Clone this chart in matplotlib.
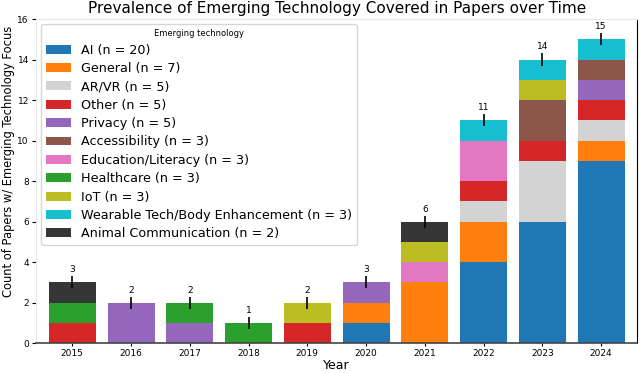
import numpy as np
import matplotlib.pyplot as plt

years = ['2015', '2016', '2017', '2018', '2019', '2020', '2021', '2022', '2023', '2024']

# counts per year, stacked bottom to top in this order
categories = ['AI', 'General', 'AR/VR', 'Other', 'Privacy', 'Accessibility',
              'Education/Literacy', 'Healthcare', 'IoT',
              'Wearable Tech/Body Enhancement', 'Animal Communication']
ai            = [0, 0, 0, 0, 0, 1, 0, 4, 6, 9]
general       = [0, 0, 0, 0, 0, 1, 3, 2, 0, 1]
ar_vr         = [0, 0, 0, 0, 0, 0, 0, 1, 3, 1]
other         = [1, 0, 0, 0, 1, 0, 0, 1, 1, 1]
privacy       = [0, 2, 1, 0, 0, 1, 0, 0, 0, 1]
accessibility = [0, 0, 0, 0, 0, 0, 0, 0, 2, 1]
education     = [0, 0, 0, 0, 0, 0, 1, 2, 0, 0]
healthcare    = [1, 0, 1, 1, 0, 0, 0, 0, 0, 0]
iot           = [0, 0, 0, 0, 1, 0, 1, 0, 1, 0]
wearable      = [0, 0, 0, 0, 0, 0, 0, 1, 1, 1]
animal        = [1, 0, 0, 0, 0, 0, 1, 0, 0, 0]

series = [ai, general, ar_vr, other, privacy, accessibility,
          education, healthcare, iot, wearable, animal]
colors = ['tab:blue', 'tab:orange', 'lightgray', 'tab:red', 'tab:purple',
          'tab:brown', 'tab:pink', 'tab:green', 'tab:olive', 'tab:cyan', '#363636']

fig = plt.figure(figsize=(6.4, 3.73), dpi=100)
ax = fig.add_axes([0.056, 0.08, 0.94, 0.869])

x = np.arange(len(years))
bottom = np.zeros(len(years))
for name, vals, c in zip(categories, series, colors):
    vals = np.array(vals)
    ax.bar(x, vals, 0.8, bottom=bottom, color=c,
           label='{} (n = {})'.format(name, vals.sum()))
    bottom += vals

totals = bottom
ax.errorbar(x, totals, yerr=0.3, fmt='none', ecolor='black', elinewidth=1.2)
for xi, t in zip(x, totals):
    ax.text(xi, t + 0.4, str(int(t)), ha='center', va='bottom', fontsize=6.5)

ax.set_xticks(x)
ax.set_xticklabels(years, fontsize=6.5)
ax.set_yticks(range(0, 17, 2))
ax.tick_params(axis='y', labelsize=6.5, length=3, pad=2)
ax.tick_params(axis='x', length=2, pad=2)
ax.set_xlim(-0.62, 9.62)
ax.set_ylim(0, 16)

ax.spines['top'].set_color('#e8e8e8')
ax.spines['left'].set_color('#e8e8e8')
ax.spines['bottom'].set_color('#444444')
ax.spines['bottom'].set_linewidth(1.2)

ax.set_title('Prevalence of Emerging Technology Covered in Papers over Time',
             fontsize=11, pad=4)
ax.set_xlabel('Year', fontsize=9, labelpad=1)
ax.set_ylabel('Count of Papers w/ Emerging Technology Focus', fontsize=8.3)
ax.yaxis.set_label_coords(-0.034, 0.56)

leg = ax.legend(title='Emerging technology', loc='upper left', fontsize=9.2,
                title_fontsize=6, frameon=True, borderaxespad=0.4,
                handlelength=1.95, labelspacing=0.42)

fig.savefig('out.png', dpi=100)
